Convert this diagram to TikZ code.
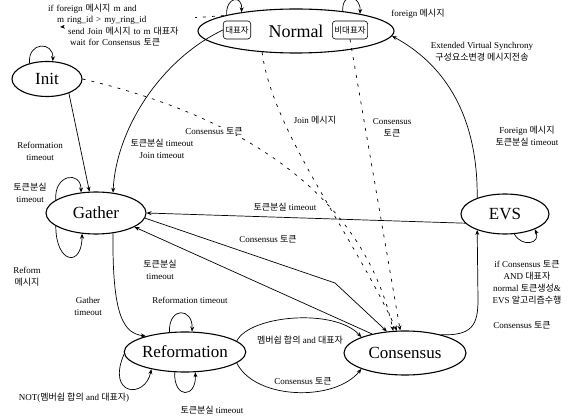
\documentclass[tikz,border=0pt]{standalone}
\usepackage{fontspec}
\setmainfont{Liberation Serif}
\newfontfamily\kr{Noto Sans CJK KR}
\usetikzlibrary{arrows.meta,shapes.geometric}
\begin{document}
\begin{tikzpicture}[x=1pt,y=-1pt,
  state/.style={draw,ellipse,line width=1.1pt,inner sep=0pt,font=\fontsize{17}{18}\selectfont},
  lbl/.style={font=\fontsize{9}{12}\selectfont,inner sep=0.5pt,align=center},
  annl/.style={font=\fontsize{9}{10}\selectfont,inner sep=0pt,anchor=west,fill=white,minimum height=11pt,text width=#1,align=left},
  annl/.default=100pt,
  arr/.style={line width=0.7pt,-{Stealth[length=5pt,width=4pt]}},
  darr/.style={arr,dash pattern=on 3pt off 6pt},
  rbox/.style={draw,rounded corners=3pt,line width=0.6pt,minimum height=18pt,inner sep=2pt,font=\fontsize{8.5}{9}\selectfont\kr}]
\fill[white] (0,0) rectangle (581,419);
\useasboundingbox (0,0) rectangle (581,419);

% states
\node[state,minimum width=70pt,minimum height=35pt] (init) at (47,79) {Init};
\node[state,minimum width=196pt,minimum height=44pt,font=\fontsize{18}{19}\selectfont] (normal) at (296,31) {Normal};
\node[rbox] (dp) at (237,30) {대표자};
\node[rbox] (bd) at (350,30) {비대표자};
\node[state,minimum width=100pt,minimum height=42pt] (gather) at (96,213) {Gather};
\node[state,minimum width=88pt,minimum height=40pt] (evs) at (505,214) {EVS};
\node[state,minimum width=120pt,minimum height=40pt] (reform) at (185,352) {Reformation};
\node[state,minimum width=122pt,minimum height=44pt] (cons) at (405,353) {Consensus};

% annotation with dashed pointer
\coordinate (annTip) at (60,27);
\draw[darr] (normal.168) -- (annTip);
\node[annl=100pt] (ann1) at (48,9) {if foreign {\kr 메시지} m and};
\node[annl=138pt] (ann2) at (57,20) {m ring\_id > my\_ring\_id};
\node[annl=128pt] (ann3) at (68,31) {send Join {\kr 메시지} to m {\kr 대표자}};
\node[annl=110pt] (ann4) at (70,42) {wait for Consensus {\kr 토큰}};

% Init
\draw[arr] (init.138) .. controls +(-2,-22) and +(1,-20) .. (init.72);
\draw[arr] (init.327) -- (gather.107);
\node[lbl] (l1) at (40,151) {Reformation\\timeout};

% Normal loops
\draw[arr] (normal.167) .. controls +(-1,-18) and +(1,-18) .. (normal.161);
\draw[arr] (normal.23) .. controls +(-1,-20) and +(1,-18) .. (normal.15);
\node[lbl] (l2) at (418,14) {foreign {\kr 메시지}};

% Normal -> Gather
\draw[arr] (dp.west) .. controls (160,60) and (116,130) .. (gather.50);
\node[lbl] (l3) at (162,149) {{\kr 토큰분실} timeout\\Join timeout};

% dashed to Consensus
\draw[darr] (init.east) .. controls (250,118) and (365,200) .. (cons.118);
\draw[darr] (normal.212) .. controls (272,130) and (350,230) .. (cons.110);
\draw[darr] (bd.south) -- (cons.102);
\node[lbl,fill=white] (l4) at (214,131) {Consensus {\kr 토큰}};
\node[lbl] (l5) at (315,120) {Join {\kr 메시지}};
\node[lbl] (l6) at (392,128) {Consensus\\{\kr 토큰}};

% EVS -> Normal
\draw[arr] (evs.150) .. controls (478,110) and (440,62) .. (normal.357);
\node[lbl] (l7) at (482,52) {Extended Virtual Synchrony\\{\kr 구성요소변경 메시지전송}};
\node[lbl] (l8) at (527,136) {Foreign {\kr 메시지}\\{\kr 토큰분실} timeout};

% EVS -> Gather
\draw[arr] (evs.193) -- (gather.0);
\node[lbl] (l9) at (285,207) {{\kr 토큰분실} timeout};

% Gather loops
\draw[arr] (gather.162) .. controls +(-2,-26) and +(0,-22) .. (gather.126);
\node[lbl] (l10) at (30,193) {{\kr 토큰분실}\\timeout};
\draw[arr] (gather.198) .. controls +(0,38) and +(0,34) .. (gather.236);
\node[lbl] (l11) at (27,277) {Reform\\{\kr 메시지}};

% Gather <-> Consensus
\coordinate (gcb) at (335,283);
\draw[arr] (gather.354) -- (gcb) -- (cons.130);
\node[lbl] (l12) at (268,239) {Consensus {\kr 토큰}};
\draw[arr] (cons.150) -- (gather.340);
\node[lbl] (l13) at (160,270) {{\kr 토큰분실}\\timeout};

% Gather -> Reformation
\draw[arr] (gather.310) .. controls (112,320) and (125,333) .. (reform.158);
\node[lbl] (l14) at (88,306) {Gather\\timeout};

% Reformation loops
\draw[arr] (reform.128) .. controls +(-1,-26) and +(1,-24) .. (reform.71);
\node[lbl] (l15) at (190,300) {Reformation timeout};
\draw[arr] (reform.243) .. controls +(-1,27) and +(1,26) .. (reform.297);
\node[lbl] (l16) at (212,410) {{\kr 토큰분실} timeout};
\draw[arr] (reform.182) .. controls +(-18,42) and +(-6,30) .. (reform.207);
\node[lbl] (l17) at (74,398) {NOT({\kr 멤버쉽 합의} and {\kr 대표자})};

% Reformation -> Consensus
\draw[arr] (reform.12) .. controls (250,315) and (335,308) .. (cons.160);
\node[lbl] (l18) at (300,340) {{\kr 멤버쉽 합의} and {\kr 대표자}};
\draw[arr] (reform.348) .. controls (255,400) and (335,402) .. (cons.200);
\node[lbl] (l19) at (303,381) {Consensus {\kr 토큰}};

% Consensus -> EVS
\coordinate (ce) at (478,300);
\draw[arr] (cons.27) .. controls (472,336) and (478,325) .. (ce) -- (evs.210);
\node[lbl] (l20) at (527,282) {if Consensus {\kr 토큰}\\AND {\kr 대표자}\\normal {\kr 토큰생성}\&\\EVS {\kr 알고리즘수행}};
\node[lbl] (l21) at (522,325) {Consensus {\kr 토큰}};

% EVS loop
\draw[arr] (evs.295) .. controls +(8,14) and +(6,14) .. (evs.333);
\end{tikzpicture}
\end{document}
